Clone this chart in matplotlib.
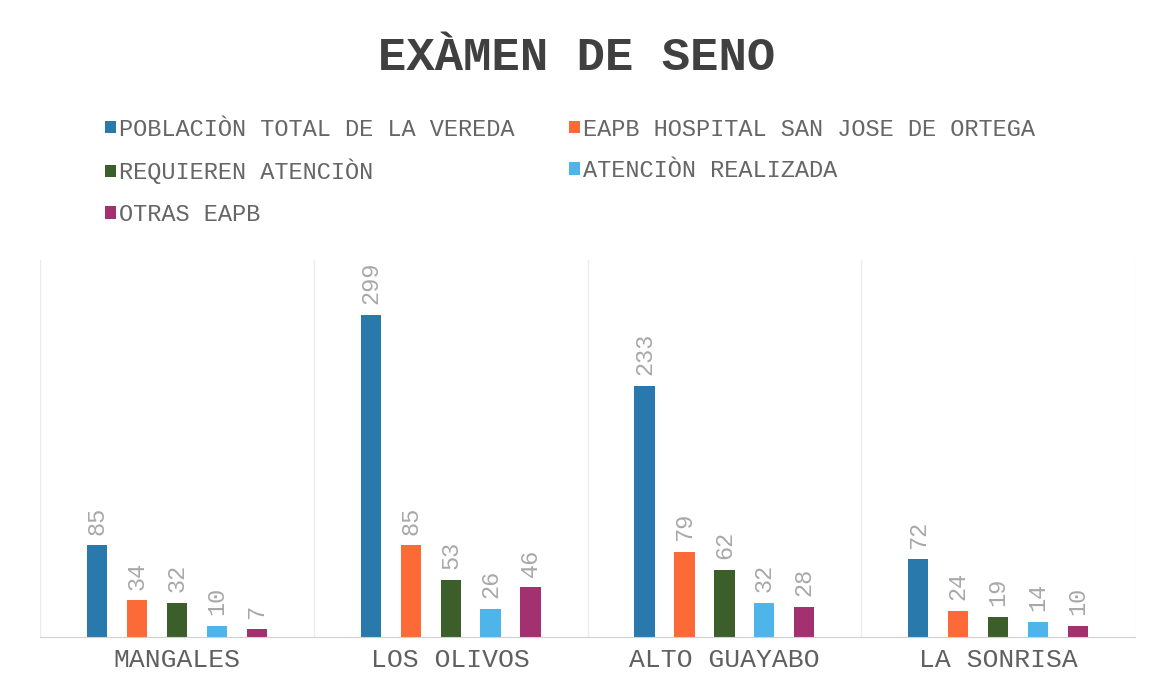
import matplotlib
matplotlib.use("Agg")
import matplotlib.pyplot as plt
import numpy as np

plt.rcParams['font.family'] = ['Liberation Mono', 'DejaVu Sans Mono']

categories = ["MANGALES", "LOS OLIVOS", "ALTO GUAYABO", "LA SONRISA"]
series_names = ["POBLACIÒN TOTAL DE LA VEREDA", "EAPB HOSPITAL SAN JOSE DE ORTEGA",
                "REQUIEREN ATENCIÒN", "ATENCIÒN REALIZADA", "OTRAS EAPB"]
poblacion = [85, 299, 233, 72]
eapb_hospital = [34, 85, 79, 24]
requieren = [32, 53, 62, 19]
realizada = [10, 26, 32, 14]
otras = [7, 46, 28, 10]
values = [poblacion, eapb_hospital, requieren, realizada, otras]
colors = ["#2A79AC", "#FC6A37", "#3B5E2B", "#4DB5EA", "#A3306F"]

fig = plt.figure(figsize=(11.53, 6.84), dpi=100)
ax = fig.add_axes([0.0347, 0.0687, 0.9497, 0.551])

x = np.arange(len(categories))
step = 0.146
width = 0.074
handles = []
for i, (vals, col) in enumerate(zip(values, colors)):
    pos = x + (i - 2) * step
    b = ax.bar(pos, vals, width=width, color=col, label=series_names[i])
    handles.append(b)
    for p, v in zip(pos, vals):
        ax.text(p, v + 10, str(v), rotation=90, ha='center', va='bottom',
                fontsize=17, color='#a8a8a8')

ax.set_xlim(-0.5, len(categories) - 0.5)
ax.set_ylim(0, 350)
ax.set_yticks([])
ax.set_xticks(x)
ax.set_xticklabels(categories, fontsize=19, color='#606060')
ax.tick_params(axis='x', length=0, pad=8)
for s in ['top', 'left', 'right']:
    ax.spines[s].set_visible(False)
ax.spines['bottom'].set_color('#d0d0d0')
for b in np.arange(-0.5, len(categories), 1.0):
    ax.axvline(b, color='#ececec', lw=1, zorder=0)

fig.text(0.5, 0.915, "EXÀMEN DE SENO", ha='center', va='center',
         fontsize=34, fontweight='bold', color='#404040')

order = [0, 2, 4, 1, 3]
leg = fig.legend([handles[i] for i in order], [series_names[i] for i in order],
                 ncol=2, loc='upper left', bbox_to_anchor=(0.083, 0.842),
                 frameon=False, fontsize=17, handlelength=0.45, handleheight=0.45,
                 handletextpad=0.15, columnspacing=2.3, labelspacing=0.78,
                 borderaxespad=0)
for t in leg.get_texts():
    t.set_color('#666666')

fig.savefig("out.png", dpi=100)
